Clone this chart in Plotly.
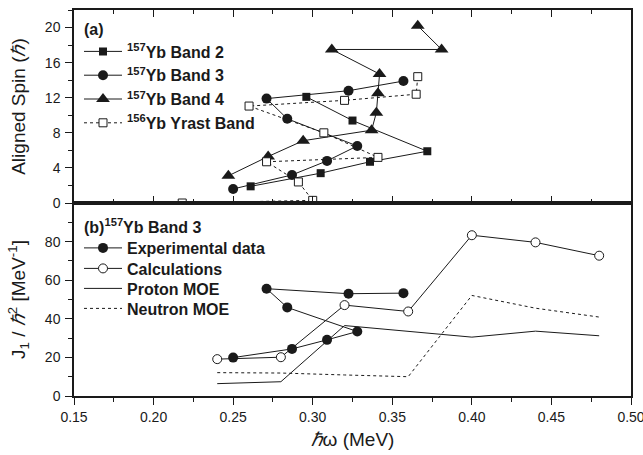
import plotly.graph_objects as go

# ---------------- data ----------------
band2_x = [0.261, 0.305, 0.336, 0.372, 0.325, 0.296]
band2_y = [1.9, 3.4, 4.7, 5.9, 9.4, 12.1]

band3_x = [0.250, 0.287, 0.309, 0.328, 0.284, 0.271, 0.3225, 0.357]
band3_y = [1.6, 3.2, 4.8, 6.5, 9.6, 11.9, 12.8, 13.9]

band4_x = [0.247, 0.272, 0.294, 0.337, 0.340, 0.341, 0.342, 0.312, 0.381, 0.366]
band4_y = [3.1, 5.3, 7.1, 8.3, 10.3, 12.5, 14.7, 17.5, 17.5, 20.2]

yrast_x = [0.218, 0.300, 0.291, 0.271, 0.341, 0.307, 0.260, 0.320, 0.365, 0.366]
yrast_y = [0.0, 0.3, 2.4, 4.7, 5.2, 8.0, 11.05, 11.7, 12.4, 14.4]

exp_x = [0.250, 0.287, 0.309, 0.328, 0.284, 0.271, 0.3225, 0.357]
exp_y = [19.9, 24.4, 29.1, 33.4, 45.9, 55.6, 53.0, 53.3]

calc_x = [0.24, 0.28, 0.32, 0.36, 0.40, 0.44, 0.48]
calc_y = [19.1, 20.1, 47.1, 43.8, 83.3, 79.6, 72.7]
proton_y = [6.4, 7.4, 36.5, 33.4, 30.5, 33.6, 31.2]
neutron_y = [12.1, 11.9, 10.9, 10.0, 52.1, 45.5, 40.9]

x_ticks = [0.15, 0.20, 0.25, 0.30, 0.35, 0.40, 0.45, 0.50]
top_y_ticks = [0, 4, 8, 12, 16, 20]
bot_y_ticks = [0, 20, 40, 60, 80]

# ---------------- layout helpers ----------------
W, H = 643, 455
PX_L, PX_R, PY_T, PY_B = 74, 631, 10, 396


def xp(px):
    return (px - PX_L) / (PX_R - PX_L)


def yp(py):
    return (PY_B - py) / (PY_B - PY_T)


INK = "#1a1a1a"
FONT = "Liberation Sans, Arial, sans-serif"

fig = go.Figure()

line = dict(color=INK, width=1)

fig.add_trace(go.Scatter(x=band2_x, y=band2_y, mode="lines+markers",
                         name="<b><sup>157</sup>Yb Band 2</b>", line=line,
                         marker=dict(symbol="square", size=8, color=INK),
                         xaxis="x", yaxis="y", legend="legend"))
fig.add_trace(go.Scatter(x=band3_x, y=band3_y, mode="lines+markers",
                         name="<b><sup>157</sup>Yb Band 3</b>", line=line,
                         marker=dict(symbol="circle", size=10, color=INK),
                         xaxis="x", yaxis="y", legend="legend"))
fig.add_trace(go.Scatter(x=band4_x, y=band4_y, mode="lines+markers",
                         name="<b><sup>157</sup>Yb Band 4</b>", line=line,
                         marker=dict(symbol="triangle-up", size=12, color=INK),
                         xaxis="x", yaxis="y", legend="legend"))
fig.add_trace(go.Scatter(x=yrast_x, y=yrast_y, mode="lines+markers",
                         name="<b><sup>156</sup>Yb Yrast Band</b>",
                         line=dict(color=INK, width=1, dash="dot"),
                         marker=dict(symbol="square", size=8, color="white",
                                     line=dict(width=1, color=INK)),
                         xaxis="x", yaxis="y", legend="legend"))

fig.add_trace(go.Scatter(x=exp_x, y=exp_y, mode="lines+markers",
                         name="<b>Experimental data</b>", line=line,
                         marker=dict(symbol="circle", size=10, color=INK),
                         xaxis="x2", yaxis="y2", legend="legend2"))
fig.add_trace(go.Scatter(x=calc_x, y=calc_y, mode="lines+markers",
                         name="<b>Calculations</b>", line=line,
                         marker=dict(symbol="circle", size=9, color="white",
                                     line=dict(width=1, color=INK)),
                         xaxis="x2", yaxis="y2", legend="legend3"))
fig.add_trace(go.Scatter(x=calc_x, y=proton_y, mode="lines",
                         name="<b>Proton MOE</b>", line=line,
                         xaxis="x2", yaxis="y2", legend="legend4"))
fig.add_trace(go.Scatter(x=calc_x, y=neutron_y, mode="lines",
                         name="<b>Neutron MOE</b>",
                         line=dict(color=INK, width=1, dash="dot"),
                         xaxis="x2", yaxis="y2", legend="legend5"))

tickfont = dict(family=FONT, size=14, color=INK)
titlefont = dict(family=FONT, size=19, color=INK)
axline = dict(showline=True, linecolor=INK, linewidth=1.5, showgrid=False,
              zeroline=False, tickcolor=INK, tickwidth=1, automargin=False)

xcommon = dict(range=[0.15, 0.5], tickvals=x_ticks, **axline)
xminor_vals = [0.175, 0.225, 0.275, 0.325, 0.375, 0.425, 0.475]

leg_common = dict(font=dict(family=FONT, size=16, color=INK),
                  bgcolor="rgba(0,0,0,0)", borderwidth=0,
                  xanchor="left", yanchor="middle", itemwidth=38,
                  tracegroupgap=0)

LEG_X = xp(79)

fig.update_layout(
    width=W, height=H,
    margin=dict(l=PX_L, r=W - PX_R, t=PY_T, b=H - PY_B, autoexpand=False),
    paper_bgcolor="white", plot_bgcolor="white",
    font=dict(family=FONT, color=INK),
    xaxis=dict(anchor="y", domain=[0, 1], ticks="inside", ticklen=7,
               mirror="ticks", showticklabels=False,
               minor=dict(ticks="inside", ticklen=4, tickvals=xminor_vals,
                          tickcolor=INK),
               **xcommon),
    yaxis=dict(anchor="x", domain=[0.5, 1], range=[0, 22],
               tickvals=top_y_ticks, ticks="outside", ticklen=7, mirror=True,
               tickfont=tickfont, ticklabelstandoff=2,
               minor=dict(ticks="outside", ticklen=4,
                          tickvals=[2, 6, 10, 14, 18, 22], tickcolor=INK),
               title=dict(text="Aligned Spin (<i>ℏ</i>)", font=titlefont,
                          standoff=14),
               **axline),
    yaxis3=dict(overlaying="y", anchor="x", side="left", range=[0, 22],
                tickvals=top_y_ticks, ticks="inside", ticklen=7,
                mirror="ticks", showticklabels=False,
                minor=dict(ticks="inside", ticklen=4,
                           tickvals=[2, 6, 10, 14, 18, 22], tickcolor=INK),
                **axline),
    xaxis2=dict(anchor="y2", domain=[0, 1], ticks="outside", ticklen=7,
                mirror=True, tickfont=tickfont, tickformat=".2f",
                ticklabeloverflow="allow",
                minor=dict(ticks="outside", ticklen=4, tickvals=xminor_vals,
                           tickcolor=INK),
                title=dict(text="<i>ℏ</i>ω (MeV)", font=titlefont,
                           standoff=9),
                **xcommon),
    xaxis3=dict(overlaying="x2", anchor="y2", side="bottom", ticks="inside",
                ticklen=7, mirror="ticks", showticklabels=False,
                minor=dict(ticks="inside", ticklen=4, tickvals=xminor_vals,
                           tickcolor=INK),
                **xcommon),
    yaxis2=dict(anchor="x2", domain=[0, 0.5], range=[0, 100],
                tickvals=bot_y_ticks, ticks="outside", ticklen=7, mirror=True,
                tickfont=tickfont, ticklabelstandoff=2,
                minor=dict(ticks="outside", ticklen=4,
                           tickvals=[10, 30, 50, 70, 90], tickcolor=INK),
                title=dict(text="J<sub>1</sub> / <i>ℏ</i><sup>2</sup> [MeV<sup>-1</sup>]",
                           font=titlefont, standoff=14),
                **axline),
    yaxis4=dict(overlaying="y2", anchor="x2", side="left", range=[0, 100],
                tickvals=bot_y_ticks, ticks="inside", ticklen=7,
                mirror="ticks", showticklabels=False,
                minor=dict(ticks="inside", ticklen=4,
                           tickvals=[10, 30, 50, 70, 90], tickcolor=INK),
                **axline),
    legend=dict(x=LEG_X, y=yp(34.5), yanchor="top", xanchor="left",
                font=dict(family=FONT, size=16, color=INK),
                bgcolor="rgba(0,0,0,0)", itemwidth=38, tracegroupgap=0),
    legend2=dict(x=LEG_X, y=yp(248), **leg_common),
    legend3=dict(x=LEG_X, y=yp(268.5), **leg_common),
    legend4=dict(x=LEG_X, y=yp(288.5), **leg_common),
    legend5=dict(x=LEG_X, y=yp(308.5), **leg_common),
    showlegend=True,
    annotations=[
        dict(text="<b>(a)</b>", x=xp(82), y=yp(30), xref="paper", yref="paper",
             xanchor="left", yanchor="middle", showarrow=False,
             font=dict(family=FONT, size=16, color=INK)),
        dict(text="<b>(b)<sup>157</sup>Yb Band 3</b>", x=xp(82), y=yp(226),
             xref="paper", yref="paper", xanchor="left", yanchor="middle",
             showarrow=False, font=dict(family=FONT, size=16, color=INK)),
    ],
)

fig.write_html(
    "out.html",
    config={"displayModeBar": False},
    post_script="document.body.style.margin='0';document.body.style.overflow='hidden';",
)
